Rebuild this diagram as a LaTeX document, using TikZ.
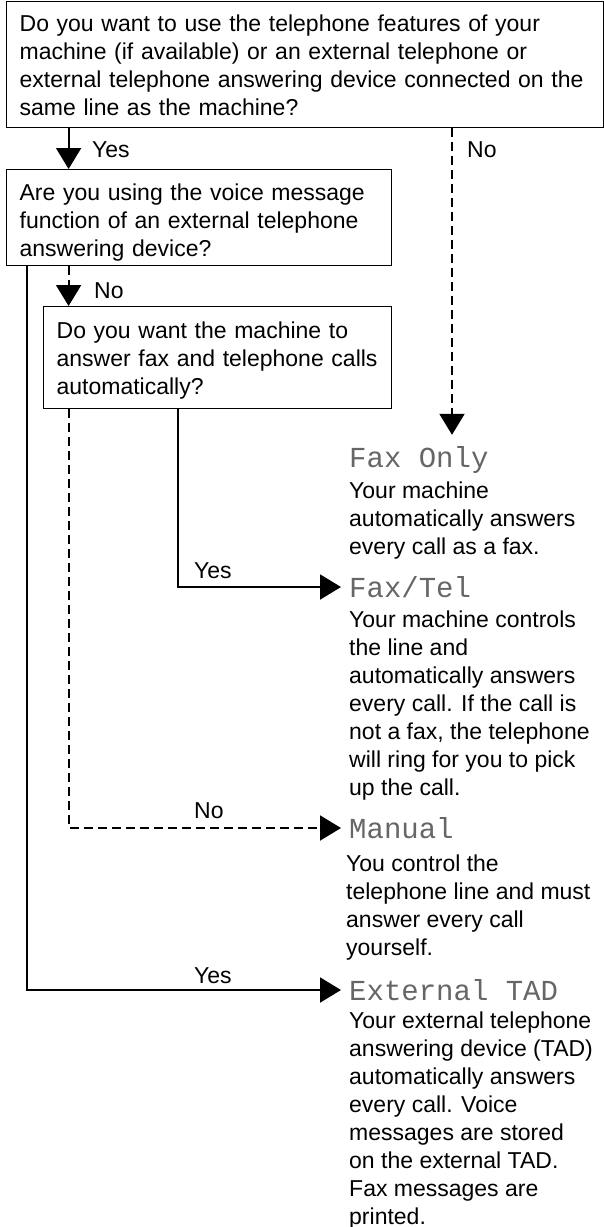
\documentclass[tikz,border=0pt]{standalone}
\usepackage{fontspec}
\setmainfont{Liberation Sans}
\newfontfamily\lcdfont{Liberation Mono}
\usetikzlibrary{arrows.meta, positioning}

\tikzset{
  qbox/.style={draw, line width=1.3pt, anchor=north west, align=left, inner xsep=13pt,
    font=\fontsize{23}{28}\selectfont},
  mode/.style={anchor=west, inner xsep=8pt, inner ysep=12pt, text height=20pt, text depth=0pt,
    text=black!60, font=\fontsize{29}{29}\lcdfont},
  desc/.style={anchor=north west, align=left, inner sep=0pt, font=\fontsize{23}{28}\selectfont},
  ans/.style={anchor=base west, inner sep=0pt, font=\fontsize{23}{28}\selectfont},
  yes/.style={->, line width=2pt},
  no/.style={->, line width=2pt, dash pattern=on 9pt off 5pt},
}

\begin{document}
\begin{tikzpicture}[x=1pt, y=-1pt, >={Triangle[length=21pt, width=25pt]}]
\useasboundingbox (0,0) rectangle (604,1227);

% questions
\node[qbox, text width=571pt, minimum height=126pt] (q1) at (6,1)
  {\rule{0pt}{18.5pt}Do you want to use the telephone features of your\\
   machine (if available) or an external telephone or\\
   external telephone answering device connected on the\\
   same line as the machine?};
\node[qbox, text width=359pt, minimum height=96pt] (q2) at (6,169)
  {\rule{0pt}{26.5pt}Are you using the voice message\\
   function of an external telephone\\
   answering device?};
\node[qbox, text width=322pt, minimum height=102pt] (q3) at (43,306)
  {\rule{0pt}{23pt}Do you want the machine to\\
   answer fax and telephone calls\\
   automatically?};

% receive modes
\node[mode] (faxonly) at (341,457) {Fax Only};
\node[mode] (faxtel) at (341,587) {Fax/Tel};
\node[mode] (manual) at (341,828) {Manual};
\node[mode] (tad) at (341,990) {External TAD};

\node[desc] (faxonlytxt) at (349,482)
  {Your machine\\ automatically answers\\ every call as a fax.};
\node[desc] (faxteltxt) at (349,611)
  {Your machine controls\\ the line and\\ automatically answers\\
   every call. If the call is\\ not a fax, the telephone\\
   will ring for you to pick\\ up the call.};
\node[desc] (manualtxt) at (346,855)
  {You control the\\ telephone line and must\\ answer every call\\ yourself.};
\node[desc] (tadtxt) at (349,1012)
  {Your external telephone\\ answering device (TAD)\\ automatically answers\\
   every call. Voice\\ messages are stored\\ on the external TAD.\\
   Fax messages are\\ printed.};

% columns of the connectors
\coordinate (colA) at (27,0);
\coordinate (colB) at (68.6,0);
\coordinate (colC) at (178,0);
\coordinate (colD) at (452,0);

\draw[yes] (q1.south -| colB) -- (q2.north -| colB);
\draw[no] (q1.south -| colD) -- (faxonly.north -| colD);
\draw[no] (q2.south -| colB) -- (q3.north -| colB);
\draw[yes] (q2.south -| colA) |- (tad.west);
\draw[yes] (q3.south -| colC) |- (faxtel.west);
\draw[no] (q3.south -| colB) |- (manual.west);

\node[ans] (yes1) at (92,157) {Yes};
\node[ans] (no1) at (467,157) {No};
\node[ans] (no2) at (94,298) {No};
\node[ans] (yes2) at (194,578) {Yes};
\node[ans] (no3) at (194,818) {No};
\node[ans] (yes3) at (194,983) {Yes};
\end{tikzpicture}
\end{document}
